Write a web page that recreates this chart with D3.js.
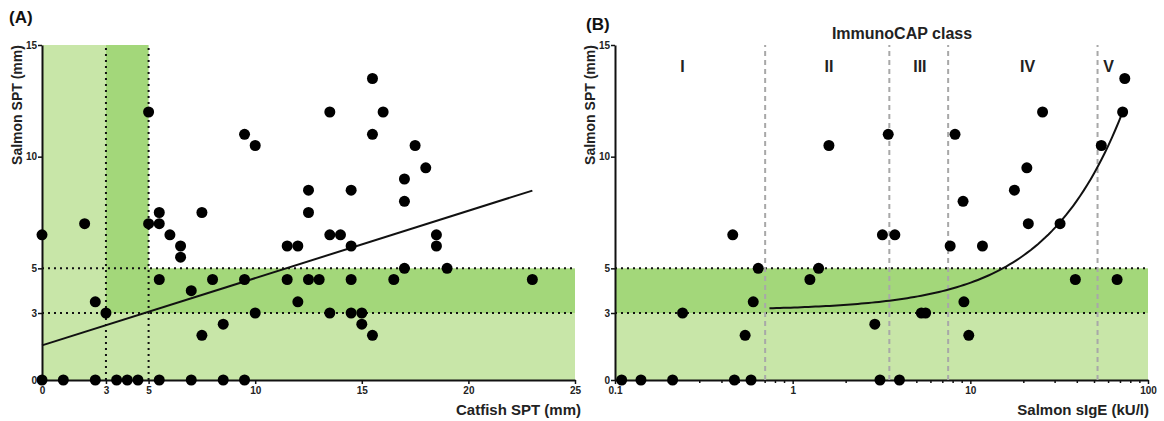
<!DOCTYPE html>
<html><head><meta charset="utf-8">
<script src="https://cdn.jsdelivr.net/npm/d3@7"></script>
<style>body{margin:0;background:#fff}svg{display:block;font-family:"Liberation Sans",Arial,sans-serif}</style>
</head><body><svg id="c" width="1164" height="421"></svg>
<script>
// Panel A data: Catfish SPT (x) vs Salmon SPT (y)
const catfishSPT = [0,2,2.5,3,5,5,5.5,5.5,6,6.5,6.5,7.5,5.5,7,8,9.5,7.5,8.5,10,9.5,10,11.5,12,11.5,12,12.5,12.5,12.5,13,13.5,14,14.5,14.5,13.5,15.5,16,15.5,17.5,18,17,17,18.5,18.5,17,19,14.5,16.5,23,13.5,14.5,15,15,15.5,0,1,2.5,3.5,4,4.5,5.5,7,8.5,9.5];
const salmonSPT_A = [6.5,7,3.5,3,12,7,7.5,7,6.5,6,5.5,7.5,4.5,4,4.5,4.5,2,2.5,3,11,10.5,6,6,4.5,3.5,7.5,8.5,4.5,4.5,6.5,6.5,6,8.5,12,13.5,12,11,10.5,9.5,9,8,6.5,6,5,5,4.5,4.5,4.5,3,3,3,2.5,2,0,0,0,0,0,0,0,0,0,0];
const regA = [[0,1.55],[23,8.48]];
// Panel B data: Salmon sIgE (x, kU/l) vs Salmon SPT (y)
const salmonIgE = [0.46,1.6,3.45,3.2,3.76,8.2,9.1,7.7,11.7,17.7,20.8,21.2,25.5,32,54.6,72,74,0.64,0.6,1.25,1.4,9.2,39,67,0.24,0.54,2.9,5.3,5.6,9.8,0.109,0.14,0.211,0.47,0.583,3.1,3.99];
const salmonSPT_B = [6.5,10.5,11,6.5,6.5,11,8,6,6,8.5,9.5,7,12,7,10.5,12,13.5,5,3.5,4.5,5,3.5,4.5,4.5,3,2,2.5,3,3,2,0,0,0,0,0,0,0];
const regB = {a:3.12, b:0.1234, from:0.74, to:72};
const classBounds = [0.7,3.5,7.5,52];
const classNames = ["I","II","III","IV","V"];
const classPos = [0.24,1.6,5.2,21,60];
const yTicks = [0,3,5,10,15];
const xTicksA = [0,3,5,10,15,20,25];
const xTicksB = [0.1,1,10,100];

const svg = d3.select("#c");
const light = "#c8e6a8", dark = "#a3d77a";
const y = d3.scaleLinear().domain([0,15]).range([380,45]);
const xA = d3.scaleLinear().domain([0,25]).range([42,575]);
const xB = d3.scaleLog().domain([0.1,100]).range([615,1148]);

function panel(g, x, x0, x1, isA){
  if(isA){
    g.append("rect").attr("x",x(x0)).attr("y",y(15)).attr("width",x(3)-x(x0)).attr("height",y(0)-y(15)).attr("fill",light);
    g.append("rect").attr("x",x(x0)).attr("y",y(3)).attr("width",x(x1)-x(x0)).attr("height",y(0)-y(3)).attr("fill",light);
    g.append("rect").attr("x",x(3)).attr("y",y(15)).attr("width",x(5)-x(3)).attr("height",y(3)-y(15)).attr("fill",dark);
    g.append("rect").attr("x",x(3)).attr("y",y(5)).attr("width",x(x1)-x(3)).attr("height",y(3)-y(5)).attr("fill",dark);
  } else {
    g.append("rect").attr("x",x(x0)).attr("y",y(3)).attr("width",x(x1)-x(x0)).attr("height",y(0)-y(3)).attr("fill",light);
    g.append("rect").attr("x",x(x0)).attr("y",y(5)).attr("width",x(x1)-x(x0)).attr("height",y(3)-y(5)).attr("fill",dark);
  }
  const dot = {stroke:"#111","stroke-width":2,"stroke-dasharray":"2,4"};
  [3,5].forEach(v=>{
    const l = g.append("line").attr("x1",x(x0)).attr("x2",x(x1)).attr("y1",y(v)).attr("y2",y(v));
    Object.entries(dot).forEach(([k,vv])=>l.attr(k,vv));
    if(isA){
      const lv = g.append("line").attr("x1",x(v)).attr("x2",x(v)).attr("y1",y(0)).attr("y2",y(15));
      Object.entries(dot).forEach(([k,vv])=>lv.attr(k,vv));
    }
  });
  const ya = g.append("g").attr("transform",`translate(${x(x0)},0)`)
    .call(d3.axisLeft(y).tickValues(yTicks).tickSize(4).tickSizeOuter(0).tickPadding(1));
  const xa = d3.axisBottom(x).tickSize(4).tickSizeOuter(0).tickPadding(3);
  if(isA) xa.tickValues(xTicksA).tickFormat(d3.format("d"));
  else xa.tickValues(xTicksB).tickFormat(d=>String(d));
  const xg = g.append("g").attr("transform",`translate(0,${y(0)})`).call(xa);
  if(!isA){
    const minors=[];
    [0.1,1,10].forEach(dc=>{for(let k=2;k<=9;k++)minors.push(dc*k);});
    xg.selectAll(".minor").data(minors).enter().append("line")
      .attr("x1",d=>x(d)).attr("x2",d=>x(d)).attr("y1",0).attr("y2",3).attr("stroke","#111").attr("stroke-width",1.5);
  }
  [ya,xg].forEach(a=>{
    a.select(".domain").attr("stroke","#111").attr("stroke-width",2);
    a.selectAll(".tick line").attr("stroke","#111").attr("stroke-width",1.5);
    a.selectAll("text").attr("font-size",10).attr("font-weight","bold").attr("fill","#222").attr("font-family","'Liberation Sans',Arial,sans-serif");
  });
}

const gA = svg.append("g");
panel(gA, xA, 0, 25, true);
const gB = svg.append("g");
panel(gB, xB, 0.1, 100, false);

gB.selectAll(".cb").data(classBounds).enter().append("line")
  .attr("x1",d=>xB(d)).attr("x2",d=>xB(d)).attr("y1",y(0)).attr("y2",y(15))
  .attr("stroke","#a8a8a8").attr("stroke-width",2).attr("stroke-dasharray","5,4");
gB.selectAll(".cn").data(classNames).enter().append("text")
  .attr("x",(d,i)=>xB(classPos[i])).attr("y",72).attr("text-anchor","middle")
  .attr("font-size",16).attr("font-weight","bold").attr("fill","#222").text(d=>d);
gB.append("text").attr("x",902).attr("y",39).attr("text-anchor","middle")
  .attr("font-size",16).attr("font-weight","bold").attr("fill","#222").text("ImmunoCAP class");

const lineA = d3.line().x(d=>xA(d[0])).y(d=>y(d[1]));
gA.append("path").attr("d",lineA(regA)).attr("fill","none").attr("stroke","#111").attr("stroke-width",2);
const bx = d3.range(0,101).map(i=>regB.from*Math.pow(regB.to/regB.from,i/100));
const lineB = d3.line().x(d=>xB(d)).y(d=>y(regB.a+regB.b*d));
gB.append("path").attr("d",lineB(bx)).attr("fill","none").attr("stroke","#111").attr("stroke-width",2);

gA.selectAll(".p").data(catfishSPT).enter().append("circle")
  .attr("cx",d=>xA(d)).attr("cy",(d,i)=>y(salmonSPT_A[i])).attr("r",5.5).attr("fill","#000");
gB.selectAll(".p").data(salmonIgE).enter().append("circle")
  .attr("cx",d=>xB(d)).attr("cy",(d,i)=>y(salmonSPT_B[i])).attr("r",5.5).attr("fill","#000");

function ylabel(x){
  svg.append("text").attr("transform",`translate(${x},105) rotate(-90)`).attr("text-anchor","middle")
    .attr("font-size",14).attr("font-weight","bold").attr("fill","#222").text("Salmon SPT (mm)");
}
ylabel(22); ylabel(595);
svg.append("text").attr("x",581).attr("y",415).attr("text-anchor","end").attr("font-size",15).attr("font-weight","bold").attr("fill","#222").text("Catfish SPT (mm)");
svg.append("text").attr("x",1149).attr("y",415).attr("text-anchor","end").attr("font-size",15).attr("font-weight","bold").attr("fill","#222").text("Salmon sIgE (kU/l)");
svg.append("text").attr("x",9).attr("y",23).attr("font-size",17).attr("font-weight","bold").attr("fill","#111").text("(A)");
svg.append("text").attr("x",586).attr("y",30).attr("font-size",17).attr("font-weight","bold").attr("fill","#111").text("(B)");
</script></body></html>
